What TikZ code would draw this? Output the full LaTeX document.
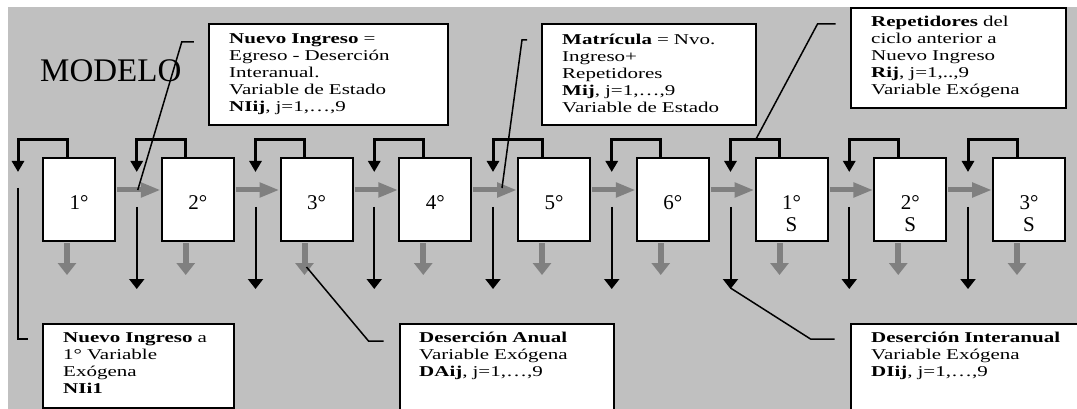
\documentclass[tikz,border=0pt]{standalone}
\usepackage{fontspec}
\setmainfont{Liberation Serif}
\newfontfamily\notefont[FakeStretch=1.4]{Liberation Serif}
\usepackage{tikz}
\usetikzlibrary{positioning, calc, arrows.meta}
\definecolor{ModelBack}{HTML}{C0C0C0}
\definecolor{ModelArrow}{HTML}{808080}

\begin{document}
\begin{tikzpicture}[x=1pt, y=-1pt,
    stage/.style={draw, line width=2pt, fill=white, minimum width=72pt, minimum height=83pt, inner sep=0pt, anchor=north west},
    stagelbl/.style={font=\fontsize{21}{22}\selectfont, align=center, inner sep=0pt, anchor=north},
    frame/.style={draw, line width=2pt, fill=white, inner sep=0pt, anchor=north west},
    note/.style={font=\notefont\fontsize{15}{16.8}\selectfont, text width=215pt, align=left, inner sep=0pt, anchor=north west},
    loopline/.style={line width=3pt, -{Triangle[width=12pt,length=11pt]}},
    dropline/.style={line width=2pt, -{Triangle[width=15pt,length=10pt]}},
    flow/.style={ModelArrow, line width=5pt, shorten <=1pt, -{Triangle[width=14pt,length=20pt]}},
    loss/.style={ModelArrow, line width=6pt, shorten <=1pt, -{Triangle[width=18pt,length=12pt]}},
    callline/.style={line width=1.5pt}]
  \useasboundingbox (0,0) rectangle (1077,409);
  \clip (0,0) rectangle (1077,409);
  \fill[ModelBack] (8,7) rectangle (1077,409);

  % Title
  \node[font=\fontsize{33}{36}\selectfont, inner sep=0pt, anchor=base west] (title) at (40,82) {MODELO};

  % Stages
  \foreach \i/\lbl in {1/1°,2/2°,3/3°,4/4°,5/5°,6/6°,7/{1°\\S},8/{2°\\S},9/{3°\\S}} {
    \node[stage] (s\i) at ({42+(\i-1)*118.75},157) {};
    \node[stagelbl] (l\i) at ($(s\i.north)+(0,38)$) {\lbl};
  }

  % Repeaters and annual dropout
  \foreach \i in {1,...,9} {
    \draw[loopline] ($(s\i.north west)+(25,0)$) -- ++(0,-17) -| ($(s\i.north west)+(-24,15)$);
    \draw[loss] ($(s\i.south west)+(25,0)$) -- ++(0,33);
  }
  % Flow between stages
  \foreach \i [evaluate=\i as \j using int(\i+1)] in {1,...,8}
    \draw[flow] ($(s\i.north east)+(0,33)$) -- ($(s\j.north west)+(0,33)$);
  % Interannual dropout
  \foreach \i in {2,...,9}
    \draw[dropline] ($(s\i.north west)+(-24,50)$) -- ++(0,82);

  % Callouts
  \node[frame, minimum width=239pt, minimum height=101pt] (ni) at (208,23) {};
  \node[note] (ni-t) at ($(ni.north west)+(21,9)$) {\strut\textbf{Nuevo Ingreso} =\\Egreso - Deserción\\Interanual.\\Variable de Estado\\\textbf{NIij}, j=1,\dots,9};

  \node[frame, minimum width=214pt, minimum height=101pt] (mat) at (541,23) {};
  \node[note] (mat-t) at ($(mat.north west)+(21,10)$) {\strut\textbf{Matrícula} = Nvo.\\Ingreso+\\Repetidores\\\textbf{Mij}, j=1,\dots,9\\Variable de Estado};

  \node[frame, minimum width=215pt, minimum height=100pt] (rep) at (850,7) {};
  \node[note] (rep-t) at ($(rep.north west)+(21,8)$) {\strut\textbf{Repetidores} del\\ciclo anterior a\\Nuevo Ingreso\\\textbf{Rij}, j=1,..,9\\Variable Exógena};

  \node[frame, minimum width=191pt, minimum height=84pt] (ni1) at (42,323) {};
  \node[note] (ni1-t) at ($(ni1.north west)+(21,8)$) {\strut\textbf{Nuevo Ingreso} a\\1° Variable\\Exógena\\\textbf{NIi1}};

  \node[frame, minimum width=214pt, minimum height=100pt] (da) at (399,323) {};
  \node[note] (da-t) at ($(da.north west)+(20,8)$) {\strut\textbf{Deserción Anual}\\Variable Exógena\\\textbf{DAij}, j=1,\dots,9};

  \node[frame, minimum width=250pt, minimum height=100pt] (di) at (850,323) {};
  \node[note] (di-t) at ($(di.north west)+(21,8)$) {\strut\textbf{Deserción Interanual}\\Variable Exógena\\\textbf{DIij}, j=1,\dots,9};

  % Callout lines
  \draw[callline] ($(s2.north west)+(-23,33)$) -- ++(44,-148) -- ++(12,0);
  \draw[callline] ($(s5.north west)+(-15,31)$) -- ++(20,-148) -- ++(5,0);
  \draw[callline] ($(s7.north west)+(1,-17)$) -- ++(62,-116) -- ++(18,0);
  \draw[callline] ($(s1.north west)+(-24,31)$) -- ++(0,151) -- ++(10,0);
  \draw[callline] ($(s3.south west)+(27,25)$) -- ++(62,74) -- ++(15,0);
  \draw[callline] ($(s7.north west)+(-24,131)$) -- ++(80,51) -- ++(24,0);
\end{tikzpicture}
\end{document}
